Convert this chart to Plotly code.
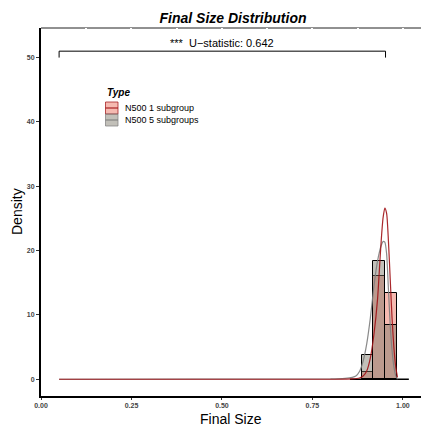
import plotly.graph_objects as go

# ---------------- data ----------------
series_names = ["N500 1 subgroup", "N500 5 subgroups"]
legend_title = "Type"

bin_centers = [0.902, 0.935, 0.968]
bin_width = 0.0328
hist_1sub = [1.2, 16.1, 13.4]
hist_5sub = [3.7, 18.4, 8.5]
hist_outer_edges = [0.8536, 1.0164]   # empty bins around the data appear as a baseline

dens_x_1sub = [0.05, 0.80, 0.86, 0.88, 0.89, 0.90, 0.91, 0.92, 0.93, 0.935, 0.94,
               0.945, 0.95, 0.955, 0.96, 0.965, 0.97, 0.975, 0.98, 0.985]
dens_y_1sub = [0.0, 0.0, 0.05, 0.2, 0.5, 1.3, 3.3, 7.0, 12.5, 17.0, 21.5,
               25.0, 26.6, 25.8, 21.5, 15.5, 9.5, 5.0, 2.0, 0.3]

dens_x_5sub = [0.05, 0.80, 0.84, 0.86, 0.87, 0.88, 0.89, 0.90, 0.91, 0.92, 0.93,
               0.94, 0.945, 0.95, 0.955, 0.96, 0.965, 0.97, 0.975, 0.98, 0.985]
dens_y_5sub = [0.0, 0.05, 0.15, 0.3, 0.5, 1.2, 2.8, 5.5, 9.5, 14.5, 18.4,
               20.8, 21.4, 21.3, 19.5, 14.0, 8.4, 4.5, 2.0, 0.6, 0.0]

bracket_x = [0.05, 0.952]
bracket_y = [50, 51]
stat_label = "***  U\u2212statistic: 0.642"

x_ticks = [0, 0.25, 0.5, 0.75, 1.0]
x_ticklabels = ["0.00", "0.25", "0.50", "0.75", "1.00"]
y_ticks = [0, 10, 20, 30, 40, 50]
y_ticklabels = ["0", "10", "20", "30", "40", "50"]

# ---------------- styles ----------------
fill_colors = ["rgba(230,90,70,0.42)", "rgba(120,115,100,0.45)"]
line_colors = ["rgba(160,15,20,0.9)", "rgba(125,125,125,0.9)"]
FONT = "Liberation Sans, Arial, sans-serif"

fig = go.Figure()

for hist, fc in zip([hist_1sub, hist_5sub], fill_colors):
    fig.add_trace(go.Bar(
        x=bin_centers, y=hist, width=bin_width,
        marker=dict(color=fc, line=dict(color="black", width=1)),
        showlegend=False, hoverinfo="skip"))

fig.add_trace(go.Scatter(
    x=hist_outer_edges, y=[0, 0], mode="lines",
    line=dict(color="black", width=1.4), showlegend=False, hoverinfo="skip"))

for dx, dy, lc in [(dens_x_5sub, dens_y_5sub, line_colors[1]),
                   (dens_x_1sub, dens_y_1sub, line_colors[0])]:
    fig.add_trace(go.Scatter(
        x=dx, y=dy, mode="lines", line=dict(color=lc, width=1.2, shape="spline", smoothing=0.6),
        showlegend=False, hoverinfo="skip"))

shapes = []
# top border (broken by white grid lines)
shapes.append(dict(type="line", xref="paper", yref="paper", x0=0, x1=1, y0=1, y1=1,
                   line=dict(color="#222", width=1), layer="below"))
# significance bracket
shapes.append(dict(type="path", xref="x", yref="y",
                   path=f"M {bracket_x[0]},{bracket_y[0]} L {bracket_x[0]},{bracket_y[1]} "
                        f"L {bracket_x[1]},{bracket_y[1]} L {bracket_x[1]},{bracket_y[0]}",
                   line=dict(color="black", width=1), layer="above"))

# manual legend (paper coords computed from pixel layout)
L, R, T, B = 41, 421, 28, 396
def px(xp): return (xp - L) / (R - L)
def py(yp): return (B - yp) / (B - T)

annotations = []
annotations.append(dict(text="<b><i>" + legend_title + "</i></b>", xref="paper", yref="paper",
                        x=px(105), y=py(92), xanchor="left", yanchor="middle",
                        showarrow=False, font=dict(family=FONT, size=10, color="black")))
key_tops = [102, 114]
for i, name in enumerate(series_names):
    t = key_tops[i]
    shapes.append(dict(type="rect", xref="paper", yref="paper",
                       x0=px(105.5), x1=px(118), y0=py(t + 12), y1=py(t),
                       fillcolor=fill_colors[i], line=dict(color=line_colors[i], width=0.8)))
    shapes.append(dict(type="line", xref="paper", yref="paper",
                       x0=px(105.5), x1=px(118), y0=py(t + 6), y1=py(t + 6),
                       line=dict(color=line_colors[i], width=1.2)))
    annotations.append(dict(text=name, xref="paper", yref="paper",
                            x=px(123), y=py(t + 6), xanchor="left", yanchor="middle",
                            showarrow=False, font=dict(family=FONT, size=9, color="black")))

annotations.append(dict(text=stat_label, xref="x", yref="y",
                        x=(bracket_x[0] + bracket_x[1]) / 2, y=bracket_y[1],
                        xanchor="center", yanchor="bottom", showarrow=False,
                        font=dict(family=FONT, size=11, color="black")))
# axis titles
annotations.append(dict(text="Final Size", xref="paper", yref="paper", x=0.5, y=py(410),
                        xanchor="center", yanchor="top", showarrow=False,
                        font=dict(family=FONT, size=14, color="black"), borderpad=0))
annotations.append(dict(text="Density", xref="paper", yref="paper", x=px(17), y=0.5,
                        xanchor="center", yanchor="middle", textangle=-90, showarrow=False,
                        font=dict(family=FONT, size=14, color="black")))

fig.update_layout(
    width=421, height=426,
    margin=dict(l=L, r=0, t=T, b=426 - B, pad=0),
    paper_bgcolor="white", plot_bgcolor="rgba(0,0,0,0)",
    barmode="overlay", bargap=0,
    title=dict(text="<b><i>Final Size Distribution</i></b>", x=px(233), xref="paper",
               y=1 - 18 / 426, yref="container", xanchor="center", yanchor="middle",
               font=dict(family=FONT, size=14, color="black")),
    shapes=shapes, annotations=annotations,
    showlegend=False,
    font=dict(family=FONT),
)

fig.update_xaxes(
    range=[0, 1.05], tickvals=x_ticks, ticktext=x_ticklabels,
    showline=True, linecolor="black", linewidth=2,
    ticks="outside", ticklen=2, tickcolor="#333", tickwidth=1,
    tickfont=dict(family=FONT, size=7, color="#444444", weight="bold"),
    showgrid=True, gridcolor="white", gridwidth=1.5,
    minor=dict(dtick=0.125, tick0=0, showgrid=True, gridcolor="white", gridwidth=1.5, ticks=""),
    zeroline=False,
)
fig.update_yaxes(
    range=[-2.6, 54.6], tickvals=y_ticks, ticktext=y_ticklabels,
    showline=True, linecolor="black", linewidth=2,
    ticks="outside", ticklen=3, tickcolor="#333", tickwidth=1,
    tickfont=dict(family=FONT, size=7, color="#444444", weight="bold"),
    showgrid=False, zeroline=False,
)

fig.write_html("out.html")
